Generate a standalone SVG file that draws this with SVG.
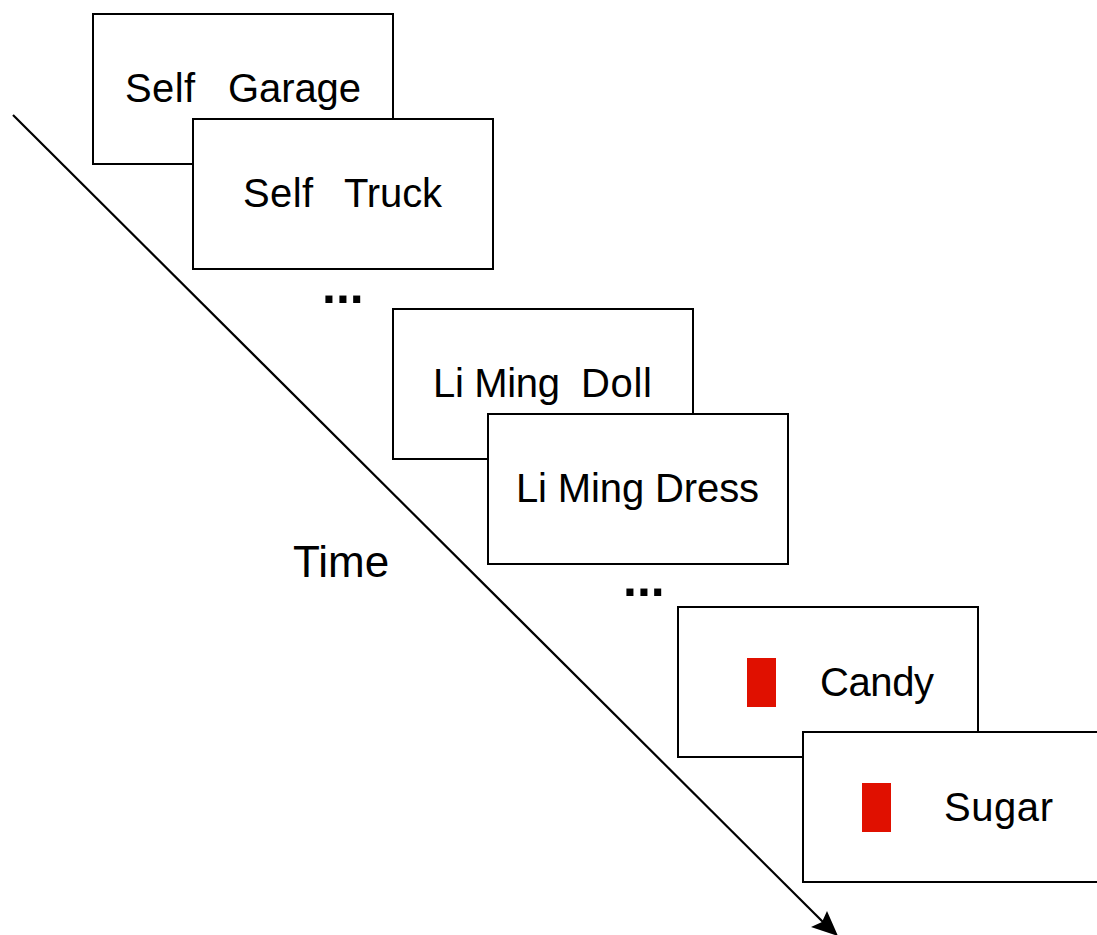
<svg xmlns="http://www.w3.org/2000/svg" width="1097" height="935" viewBox="0 0 1097 935">
<style>
.box{fill:#fff;stroke:#000;stroke-width:2}
.t{font-family:"Liberation Sans",Arial,sans-serif;font-size:40px;fill:#000}
.dots{font-family:"Liberation Sans",Arial,sans-serif;font-size:50px;font-weight:bold;fill:#000}
.red{fill:#e01000}
</style>
<rect width="1097" height="935" fill="#fff"/>
<g id="connectors">
<line x1="13" y1="115" x2="826" y2="925" stroke="#000" stroke-width="2.2"/>
<path d="M838,936 L811,927 L822,922 L827,911 Z" fill="#000"/>
</g>
<g id="box1"><rect class="box" x="93" y="14" width="300" height="150"/>
<text class="t" x="125" y="102" textLength="70">Self</text>
<text class="t" x="228" y="102" textLength="133">Garage</text></g>
<g id="box2"><rect class="box" x="193" y="119" width="300" height="150"/>
<text class="t" x="243" y="207" textLength="70">Self</text>
<text class="t" x="344" y="207" textLength="98">Truck</text></g>
<g id="dots1"><text class="dots" x="322" y="303">...</text></g>
<g id="box3"><rect class="box" x="393" y="309" width="300" height="150"/>
<text class="t" x="433" y="397" textLength="127">Li Ming</text>
<text class="t" x="581" y="397" textLength="71">Doll</text></g>
<g id="box4"><rect class="box" x="488" y="414" width="300" height="150"/>
<text class="t" x="516" y="502" textLength="243">Li Ming Dress</text></g>
<g id="time"><text class="t" x="293" y="577" style="font-size:44px">Time</text></g>
<g id="dots2"><text class="dots" x="623" y="596">...</text></g>
<g id="box5"><rect class="box" x="678" y="607" width="300" height="150"/>
<rect class="red" x="747" y="658" width="29" height="49"/>
<text class="t" x="820" y="696" textLength="114">Candy</text></g>
<g id="box6"><rect class="box" x="803" y="732" width="300" height="150"/>
<rect class="red" x="862" y="783" width="29" height="49"/>
<text class="t" x="944" y="821" textLength="109">Sugar</text></g>
</svg>
